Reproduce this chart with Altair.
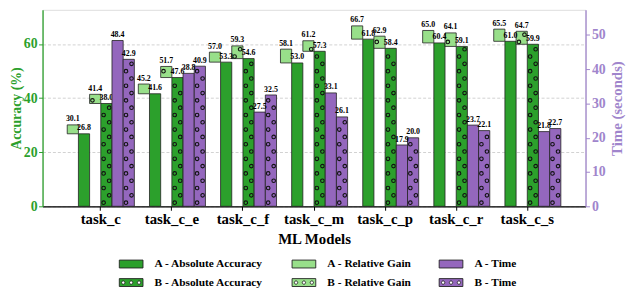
import altair as alt
import pandas as pd

# ---------------- data ----------------
models = ["task_c", "task_c_e", "task_c_f", "task_c_m", "task_c_p", "task_c_r", "task_c_s"]
a_abs = [26.8, 41.6, 53.3, 53.0, 61.8, 60.4, 61.0]
a_gain = [30.1, 45.2, 57.0, 58.1, 66.7, 65.0, 65.5]
b_abs = [38.0, 47.6, 54.6, 57.3, 58.4, 59.1, 59.9]
b_gain = [41.4, 51.7, 59.3, 61.2, 62.9, 64.1, 64.7]
a_time = [48.4, 38.8, 27.5, 33.1, 17.9, 23.7, 21.8]
b_time = [42.9, 40.9, 32.5, 26.1, 20.0, 22.1, 22.7]

series_names = ["A - Absolute Accuracy", "A - Relative Gain", "A - Time",
                "B - Absolute Accuracy", "B - Relative Gain", "B - Time"]
series_colors = ["#2ca02c", "#98df8a", "#9467bd", "#2ca02c", "#98df8a", "#9467bd"]
slots = ["gA", "aA", "gB", "aB", "tA", "tB"]

# ---------------- styling ----------------
SERIF = "Liberation Serif"
GREEN = "#2ca02c"
PURPLE_AX = "#a085cc"
W, H = 550, 199
ACC_PX = 2.74
TIME_PX = 3.47
ACC_MAX = H / ACC_PX
TIME_MAX = H / TIME_PX

# ---------------- tables ----------------
acc_rows, time_rows, acc_txt, time_txt = [], [], [], []
for i, m in enumerate(models):
    acc_rows.append(dict(model=m, slot="aA", series=series_names[0], y0=0, y1=a_abs[i]))
    acc_rows.append(dict(model=m, slot="gA", series=series_names[1], y0=a_abs[i], y1=a_gain[i]))
    acc_rows.append(dict(model=m, slot="aB", series=series_names[3], y0=0, y1=b_abs[i]))
    acc_rows.append(dict(model=m, slot="gB", series=series_names[4], y0=b_abs[i], y1=b_gain[i]))
    time_rows.append(dict(model=m, slot="tA", series=series_names[2], y0=0, y1=a_time[i]))
    time_rows.append(dict(model=m, slot="tB", series=series_names[5], y0=0, y1=b_time[i]))
    for s, v in (("gA", a_gain[i]), ("aA", a_abs[i]), ("gB", b_gain[i]), ("aB", b_abs[i])):
        acc_txt.append(dict(model=m, slot=s, v=v))
    for s, v in (("tA", a_time[i]), ("tB", b_time[i])):
        time_txt.append(dict(model=m, slot=s, v=v))

# hatch ('o' pattern) rows, fixed in screen space like a matplotlib hatch
PITCH, FIRST = 7.4, 3.7


def hatch(model, slot, lo, hi, ppu):
    out, k = [], 0
    while True:
        h = FIRST + PITCH * k
        if h > hi * ppu - 2.0:
            break
        if h >= lo * ppu + 2.0:
            out.append(dict(model=model, slot=slot, v=h / ppu, side="L" if k % 2 == 0 else "R"))
        k += 1
    return out


acc_dots, time_dots = [], []
for i, m in enumerate(models):
    acc_dots += hatch(m, "aB", 0, b_abs[i], ACC_PX)
    acc_dots += hatch(m, "gB", b_abs[i], b_gain[i], ACC_PX)
    time_dots += hatch(m, "tB", 0, b_time[i], TIME_PX)

acc_df = pd.DataFrame(acc_rows)
time_df = pd.DataFrame(time_rows)
acc_txt_df = pd.DataFrame(acc_txt)
time_txt_df = pd.DataFrame(time_txt)
acc_dots_df = pd.DataFrame(acc_dots)
time_dots_df = pd.DataFrame(time_dots)

# ---------------- encodings ----------------
x_axis = alt.Axis(title="ML Models", labelAngle=0, domainColor="black", domainWidth=1.2,
                  tickColor="black", tickSize=4, labelFont=SERIF, labelFontWeight="bold",
                  labelFontSize=15, labelColor="black", labelPadding=1,
                  titleFont=SERIF, titleFontWeight="bold", titleFontSize=15,
                  titleColor="black", titlePadding=6, grid=False)
x_enc = alt.X("model:N", sort=models, axis=x_axis,
              scale=alt.Scale(domain=models, paddingInner=0.0556, paddingOuter=0.347))
xo_enc = alt.XOffset("slot:N", scale=alt.Scale(domain=slots, paddingInner=0, paddingOuter=0))

acc_axis = alt.Axis(title="Accuracy (%)", values=[0, 20, 40, 60], domainColor=GREEN,
                    domainWidth=1.3, tickColor=GREEN, tickSize=4, labelColor=GREEN,
                    labelFont=SERIF, labelFontWeight="bold", labelFontSize=14, labelPadding=1.5,
                    titleColor=GREEN, titleFont=SERIF, titleFontWeight="bold", titleFontSize=14,
                    titlePadding=0, grid=True, gridColor="#bdbdbd", gridDash=[3, 2], gridWidth=0.7)
acc_scale = alt.Scale(domain=[0, ACC_MAX], nice=False, zero=True)

time_axis = alt.Axis(title="Time (seconds)", orient="right", values=[0, 10, 20, 30, 40, 50],
                     domainColor=PURPLE_AX, domainWidth=1.3, tickColor=PURPLE_AX, tickSize=4,
                     labelColor=PURPLE_AX, labelFont=SERIF, labelFontWeight="bold",
                     labelFontSize=14, labelPadding=2, titleColor=PURPLE_AX, titleFont=SERIF,
                     titleFontWeight="bold", titleFontSize=15, titlePadding=4, titleAngle=270,
                     titleBaseline="top", grid=False)
time_scale = alt.Scale(domain=[0, TIME_MAX], nice=False, zero=True)

# legend symbols (unit = sqrt(symbolSize)/2 = 4px): 24x8 box, and box with three rings
rect_path = "M-1,-1H5V1H-1Z"
ring = "a0.42,0.42 0 1,0 0.84,0a0.42,0.42 0 1,0 -0.84,0"
rings_path = rect_path + "M-0.42,0" + ring + "M1.58,0" + ring + "M3.58,0" + ring
legend_shapes = [rect_path, rect_path, rect_path, rings_path, rings_path, rings_path]

# hatch dot shapes (unit = sqrt(36)/2 = 3px): ring of radius 1.8px, shifted -/+2.8px
dot_ring = "a0.6,0.6 0 1,0 1.2,0a0.6,0.6 0 1,0 -1.2,0"
dot_left = "M-1.533,0" + dot_ring
dot_right = "M0.333,0" + dot_ring

the_legend = alt.Legend(orient="none", legendX=76, legendY=251.5, direction="horizontal",
                        columns=3, symbolSize=64, symbolStrokeColor="#222",
                        symbolStrokeWidth=0.9, symbolOpacity=1, symbolFillColor="#2ca02c",
                        labelFont=SERIF, labelFontWeight="bold", labelFontSize=11.5,
                        labelColor="black", labelOffset=26, columnPadding=25, rowPadding=6,
                        title=None, padding=0, labelLimit=0)

fill_enc = alt.Fill("series:N", scale=alt.Scale(domain=series_names, range=series_colors),
                    legend=the_legend)
shape_enc = alt.Shape("series:N", scale=alt.Scale(domain=series_names, range=legend_shapes),
                      legend=the_legend)

txt_props = dict(font=SERIF, fontWeight="bold", fontSize=8, baseline="alphabetic",
                 dy=-3.5, color="black")


def dot_layers(df, scale, axis):
    out = []
    for side, path in (("L", dot_left), ("R", dot_right)):
        out.append(
            alt.Chart(df).transform_filter(alt.datum.side == side)
            .mark_point(shape=path, filled=False, size=36, stroke="#111111",
                        strokeWidth=1.1, opacity=1)
            .encode(x=x_enc, xOffset=xo_enc, y=alt.Y("v:Q", scale=scale, axis=axis)))
    return out


# ---------------- accuracy layers ----------------
acc_bars = alt.Chart(acc_df).mark_bar(stroke="#222", strokeWidth=0.8).encode(
    x=x_enc, xOffset=xo_enc,
    y=alt.Y("y1:Q", scale=acc_scale, axis=acc_axis), y2="y0:Q", fill=fill_enc)

acc_text = alt.Chart(acc_txt_df).mark_text(**txt_props).encode(
    x=x_enc, xOffset=xo_enc, y=alt.Y("v:Q", scale=acc_scale, axis=acc_axis),
    text=alt.Text("v:Q", format=".1f"))

# empty layer that only lends its fill + shape scales to the shared legend
legend_layer = alt.Chart(pd.DataFrame({"series": series_names})).transform_filter(
    "false").mark_point(filled=True, size=64, stroke="#222", strokeWidth=0.9, opacity=1).encode(
    fill=fill_enc, shape=shape_enc)

acc_layer = alt.layer(acc_bars, *dot_layers(acc_dots_df, acc_scale, acc_axis), acc_text,
                      legend_layer)

# ---------------- time layers ----------------
time_bars = alt.Chart(time_df).mark_bar(stroke="#222", strokeWidth=0.8).encode(
    x=x_enc, xOffset=xo_enc,
    y=alt.Y("y1:Q", scale=time_scale, axis=time_axis), y2="y0:Q", fill=fill_enc)

time_text = alt.Chart(time_txt_df).mark_text(**txt_props).encode(
    x=x_enc, xOffset=xo_enc, y=alt.Y("v:Q", scale=time_scale, axis=time_axis),
    text=alt.Text("v:Q", format=".1f"))

time_layer = alt.layer(time_bars, *dot_layers(time_dots_df, time_scale, time_axis), time_text)

chart = alt.layer(acc_layer, time_layer).resolve_scale(y="independent").properties(
    width=W, height=H,
    autosize=alt.AutoSizeParams(type="none"),
    padding={"left": 35, "top": 0, "right": 41, "bottom": 90},
).configure_view(stroke=None).configure(background="white")

chart.save("out.html", embed_options={"renderer": "svg", "actions": False})
